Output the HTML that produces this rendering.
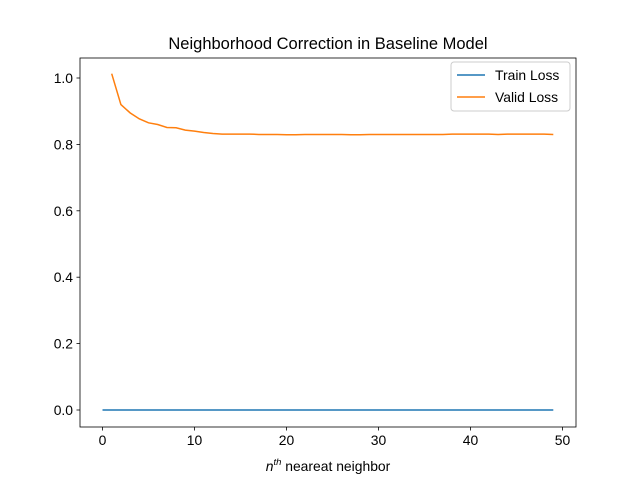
<!DOCTYPE html>
<html><head><meta charset="utf-8"><style>
body{margin:0;background:#fff}
text{font-family:"Liberation Sans","DejaVu Sans",sans-serif;fill:#000}
</style></head><body>
<svg width="640" height="480" viewBox="0 0 640 480">
<rect width="640" height="480" fill="#fff"/>
<text x="328" y="49" text-anchor="middle" font-size="16.5">Neighborhood Correction in Baseline Model</text>
<g id="ticks"></g>
<g id="lines"></g>
<rect x="80" y="58" width="496" height="369" fill="none" stroke="#000" stroke-width="0.8"/>
<text x="328" y="471" text-anchor="middle" font-size="13.9"><tspan font-style="italic">n</tspan><tspan font-size="9.5" dy="-6" font-style="italic">th</tspan><tspan dy="6"> neareat neighbor</tspan></text>
<g>
<rect x="451" y="62" width="119" height="49" rx="3" fill="#fff" fill-opacity="0.8" stroke="#ccc"/>
<line x1="457" y1="75" x2="485" y2="75" stroke="#1f77b4" stroke-width="1.5"/>
<text x="495" y="80" font-size="13.9">Train Loss</text>
<line x1="457" y1="97" x2="485" y2="97" stroke="#ff7f0e" stroke-width="1.5"/>
<text x="495" y="102" font-size="13.9">Valid Loss</text>
</g>
</svg>
<script>
const xTicks=[0,10,20,30,40,50];
const yTicks=[0.0,0.2,0.4,0.6,0.8,1.0];
const trainX=[];for(let i=0;i<50;i++)trainX.push(i);
const trainLoss=[0,0,0,0,0,0,0,0,0,0,0,0,0,0,0,0,0,0,0,0,0,0,0,0,0,0,0,0,0,0,0,0,0,0,0,0,0,0,0,0,0,0,0,0,0,0,0,0,0,0];
const validX=trainX.slice(1);
const validLoss=[1.013,0.92,0.895,0.877,0.865,0.86,0.851,0.85,0.843,0.84,0.836,0.833,0.831,0.831,0.831,0.831,0.830,0.830,0.830,0.829,0.829,0.830,0.830,0.830,0.830,0.830,0.829,0.829,0.830,0.830,0.830,0.830,0.830,0.830,0.830,0.830,0.830,0.831,0.831,0.831,0.831,0.831,0.830,0.831,0.831,0.831,0.831,0.831,0.830];
const X=v=>102.5+v*9.2, Y=v=>410-v*332;
const ns="http://www.w3.org/2000/svg";
const tg=document.getElementById('ticks'), lg=document.getElementById('lines');
function mk(tag,a,p){const e=document.createElementNS(ns,tag);for(const k in a)e.setAttribute(k,a[k]);p.appendChild(e);return e;}
xTicks.forEach(t=>{
 const l=mk('line',{x1:X(t),x2:X(t),y1:427,y2:430.5,stroke:'#000','stroke-width':0.8},tg);
 
 
 const s=mk('text',{x:X(t),y:445,'text-anchor':'middle','font-size':13.9},tg);s.textContent=t;
 
 
});
yTicks.forEach(t=>{
 const l=mk('line',{x1:76.5,x2:80,y1:Y(t),y2:Y(t),stroke:'#000','stroke-width':0.8},tg);
 
 
 const s=mk('text',{x:73,y:Y(t)+5,'text-anchor':'end','font-size':13.9},tg);s.textContent=t.toFixed(1);
 
 
});
const p1=mk('polyline',{points:trainX.map((x,i)=>X(x)+','+Y(trainLoss[i])).join(' '),fill:'none',stroke:'#1f77b4','stroke-width':1.5},lg);


const p2=mk('polyline',{points:validX.map((x,i)=>X(x)+','+Y(validLoss[i])).join(' '),fill:'none',stroke:'#ff7f0e','stroke-width':1.5},lg);


</script>
</body></html>
